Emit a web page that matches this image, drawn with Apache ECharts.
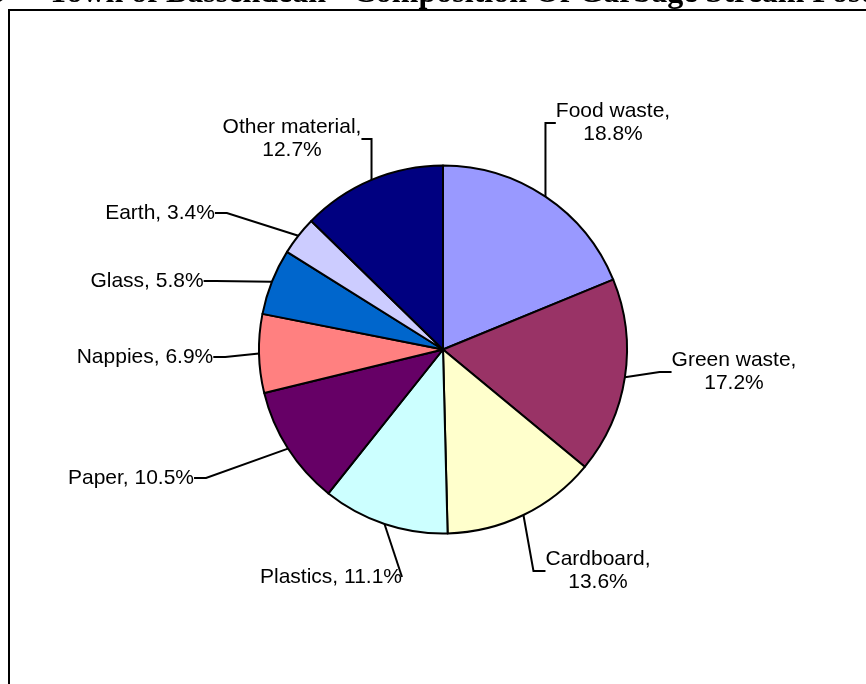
<!DOCTYPE html>
<html>
<head>
<meta charset="utf-8">
<script src="https://cdn.jsdelivr.net/npm/echarts@6/dist/echarts.min.js"></script>
<style>
html,body{margin:0;padding:0;background:#fff;}
#chart{width:866px;height:684px;}
</style>
</head>
<body>
<div id="chart"></div>
<script>
// ---- data ----
var categories = ['Food waste', 'Green waste', 'Cardboard', 'Plastics', 'Paper', 'Nappies', 'Glass', 'Earth', 'Other material'];
var values = [18.8, 17.2, 13.6, 11.1, 10.5, 6.9, 5.8, 3.4, 12.7];
var twoLineLabels = ['Food waste', 'Green waste', 'Cardboard', 'Other material'];
var titleText = 'Town of Bassendean - Composition Of Garbage Stream Post-Collection';

// ---- styles / layout ----
var colors = ['#9999FF', '#993366', '#FFFFCC', '#CCFFFF', '#660066', '#FF8080', '#0066CC', '#CCCCFF', '#000080'];
var labelCenters = {
  'Food waste': [613, 123],
  'Green waste': [734, 372],
  'Cardboard': [598, 571],
  'Plastics': [331, 577],
  'Paper': [131, 478],
  'Nappies': [145, 357],
  'Glass': [147, 281],
  'Earth': [160, 213],
  'Other material': [292, 139]
};

var chart = echarts.init(document.getElementById('chart'), null, {renderer: 'canvas'});
var option = {
  animation: false,
  backgroundColor: '#ffffff',
  color: colors,
  graphic: [
    {type: 'rect', shape: {x: 9, y: 10, width: 1000, height: 1000}, style: {fill: 'none', stroke: '#000', lineWidth: 2}, z: 0},
    {type: 'text', x: 5, y: -6, style: {text: '6', font: 'bold 32px "Liberation Serif", "Times New Roman", serif', fill: '#000', align: 'right', verticalAlign: 'middle'}},
    {type: 'text', x: 48, y: -6, style: {text: titleText, font: 'bold 32px "Liberation Serif", "Times New Roman", serif', fill: '#000', align: 'left', verticalAlign: 'middle'}}
  ],
  series: [{
    type: 'pie',
    center: [443, 349.5],
    radius: [0, 184],
    startAngle: 90,
    clockwise: true,
    avoidLabelOverlap: false,
    data: categories.map(function (c, i) { return {name: c, value: values[i]}; }),
    itemStyle: {borderColor: '#000', borderWidth: 2},
    emphasis: {disabled: true},
    label: {
      show: true,
      position: 'outside',
      color: '#000',
      fontFamily: '"Liberation Sans", Arial, sans-serif',
      fontSize: 21,
      lineHeight: 23,
      align: 'center',
      formatter: function (p) {
        var sep = twoLineLabels.indexOf(p.name) >= 0 ? ',\n' : ', ';
        return p.name + sep + p.value.toFixed(1) + '%';
      }
    },
    labelLine: {show: true, length: 15, length2: 12, lineStyle: {color: '#000', width: 2}},
    labelLayout: function (params) {
      var name = categories[params.dataIndex];
      var c = labelCenters[name];
      return {x: c[0], y: c[1], align: 'center', verticalAlign: 'middle'};
    }
  }]
};
chart.setOption(option);
</script>
</body>
</html>
